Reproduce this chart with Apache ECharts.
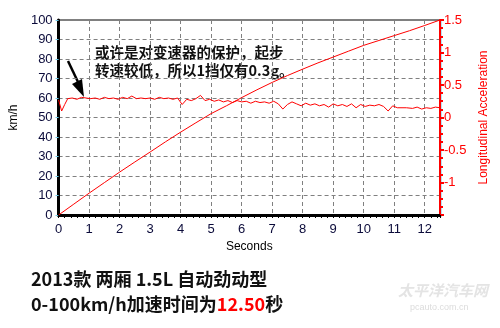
<!DOCTYPE html>
<html><head><meta charset="utf-8">
<script src="https://cdn.jsdelivr.net/npm/echarts@6/dist/echarts.min.js"></script>
<style>html,body{margin:0;padding:0;background:#fff}#c{width:500px;height:328px}</style>
</head><body><div id="c"></div>
<script>
// ---- data ----
const speedTime = [0, 0.5, 1, 1.5, 2, 2.5, 3, 3.5, 4, 4.5, 5, 5.5, 6, 6.5, 7, 7.5, 8, 8.5, 9, 9.5, 10, 10.5, 11, 11.5, 12, 12.5];
const speedKmh  = [0, 5.6, 11.2, 16.6, 22, 27.2, 32.3, 37.5, 42.5, 47.3, 52, 56, 60.2, 64.2, 68, 71.5, 74.8, 78, 81, 84, 87, 89.5, 92, 94.5, 97.2, 100];
const accelTime = [0, 0.1, 0.2, 0.3, 0.45, 0.6, 0.75, 0.9, 1.05, 1.2, 1.35, 1.5, 1.65, 1.8, 1.95, 2.1, 2.25, 2.4, 2.55, 2.7, 2.85, 3.0, 3.15, 3.3, 3.45, 3.6, 3.75, 3.9, 4.05, 4.2, 4.35, 4.5, 4.65, 4.8, 4.95, 5.1, 5.25, 5.4, 5.55, 5.7, 5.85, 6.0, 6.15, 6.3, 6.45, 6.6, 6.75, 6.9, 7.05, 7.2, 7.35, 7.5, 7.65, 7.8, 7.95, 8.1, 8.25, 8.4, 8.55, 8.7, 8.85, 9.0, 9.15, 9.3, 9.45, 9.6, 9.75, 9.9, 10.05, 10.2, 10.35, 10.5, 10.65, 10.8, 10.95, 11.1, 11.4, 11.6, 11.75, 11.9, 12.05, 12.2, 12.35, 12.5];
const accelG    = [0.27, 0.1, 0.2, 0.29, 0.3, 0.28, 0.31, 0.3, 0.29, 0.3, 0.28, 0.31, 0.29, 0.3, 0.28, 0.31, 0.29, 0.33, 0.29, 0.3, 0.29, 0.3, 0.28, 0.31, 0.29, 0.3, 0.28, 0.3, 0.2, 0.28, 0.26, 0.29, 0.34, 0.26, 0.28, 0.25, 0.27, 0.24, 0.26, 0.23, 0.26, 0.24, 0.25, 0.22, 0.25, 0.23, 0.24, 0.22, 0.25, 0.21, 0.13, 0.2, 0.24, 0.21, 0.18, 0.22, 0.19, 0.21, 0.18, 0.2, 0.16, 0.21, 0.18, 0.2, 0.17, 0.21, 0.15, 0.2, 0.17, 0.19, 0.18, 0.2, 0.17, 0.1, 0.18, 0.15, 0.15, 0.14, 0.16, 0.13, 0.15, 0.14, 0.16, 0.15];
const xTicks = [0,1,2,3,4,5,6,7,8,9,10,11,12];
const accelLabels = ['1.5','1','0.5','0','-0.5','-1'];
const titleLine1 = '2013款 两厢 1.5L 自动劲动型';
const titleLine2a = '0-100km/h加速时间为';
const titleLine2b = '12.50';
const titleLine2c = '秒';
const noteLine1 = '或许是对变速器的保护，起步';
const noteLine2 = '转速较低，所以1挡仅有0.3g。';

const chart = echarts.init(document.getElementById('c'), null, {renderer: 'canvas'});
const lab = {color: '#0b0b3a', fontFamily: 'Liberation Sans, Arial, sans-serif', fontSize: 13};
const cjk = "'Noto Sans CJK SC', sans-serif";

chart.setOption({
  animation: false,
  backgroundColor: '#fff',
  grid: {left: 58, right: 60, top: 20, bottom: 113, show: true, borderColor: '#000', borderWidth: 1},
  xAxis: {
    type: 'value', min: 0, max: 12.5, interval: 1,
    name: 'Seconds', nameLocation: 'middle', nameGap: 22,
    nameTextStyle: {color: '#000', fontFamily: 'Liberation Sans, Arial, sans-serif', fontSize: 12},
    axisLine: {show: true, lineStyle: {color: '#000', width: 3}},
    axisTick: {show: true, length: 3, lineStyle: {color: '#000'}},
    minorTick: {show: true, splitNumber: 5, length: 3, lineStyle: {color: '#000'}},
    axisLabel: Object.assign({margin: 8, formatter: v => xTicks.includes(v) ? String(v) : ''}, lab),
    splitLine: {show: true, lineStyle: {color: '#808080', type: [4, 3], width: 1}}
  },
  yAxis: [{
    type: 'value', min: 0, max: 100, interval: 10, position: 'left',
    name: 'km/h', nameLocation: 'middle', nameGap: 36, nameRotate: 90,
    nameTextStyle: {color: '#000', fontFamily: 'Liberation Sans, Arial, sans-serif', fontSize: 12},
    axisLine: {show: true, lineStyle: {color: '#000', width: 3}},
    axisTick: {show: true, length: 3, lineStyle: {color: '#6cc8e8'}},
    axisLabel: Object.assign({margin: 6}, lab),
    splitLine: {show: true, lineStyle: {color: '#808080', type: [4, 3], width: 1}}
  }, {
    type: 'value', min: -1.5, max: 1.5, interval: 0.5, position: 'right',
    name: 'Longitudinal Acceleration', nameLocation: 'middle', nameGap: 36, nameRotate: 90,
    nameTextStyle: {color: '#ff0000', fontFamily: 'Liberation Sans, Arial, sans-serif', fontSize: 12},
    axisLine: {show: true, lineStyle: {color: '#ff0000', width: 2}},
    axisTick: {show: true, inside: false, length: 4, lineStyle: {color: '#ff0000', width: 2}},
    minorTick: {show: true, splitNumber: 4, length: 3, lineStyle: {color: '#ff0000', width: 2}},
    axisLabel: {margin: 4, color: '#ff0000', fontFamily: 'Liberation Sans, Arial, sans-serif', fontSize: 13,
      formatter: v => { const s = String(v); return accelLabels.includes(s) ? s : ''; }},
    splitLine: {show: false}
  }],
  series: [{
    type: 'line', yAxisIndex: 0, showSymbol: false, smooth: false,
    lineStyle: {color: '#ff0000', width: 1},
    data: speedTime.map((t, i) => [t, speedKmh[i]])
  }, {
    type: 'line', yAxisIndex: 1, showSymbol: false, smooth: false,
    lineStyle: {color: '#ff0000', width: 1},
    data: accelTime.map((t, i) => [t, accelG[i]])
  }],
  graphic: [
    {type: 'line', shape: {x1: 441, y1: 20, x2: 441, y2: 215}, style: {stroke: '#6cc8e8', lineWidth: 1}},
    {type: 'text', left: 95, top: 45, style: {text: noteLine1, font: 'bold 14.5px ' + cjk, fill: '#111'}},
    {type: 'text', left: 95, top: 63, style: {text: noteLine2, font: 'bold 14.5px ' + cjk, fill: '#111'}},
    {type: 'line', shape: {x1: 68, y1: 61, x2: 78, y2: 82}, style: {stroke: '#000', lineWidth: 2.5}},
    {type: 'polygon', shape: {points: [[84, 97], [72, 84], [82, 79]]}, style: {fill: '#000'}},
    {type: 'text', left: 31, top: 270, style: {text: titleLine1, font: 'bold 18px ' + cjk, fill: '#111'}},
    {type: 'text', left: 31, top: 295, style: {
      text: '{a|' + titleLine2a + '}{b|' + titleLine2b + '}{a|' + titleLine2c + '}',
      rich: {a: {font: 'bold 18px ' + cjk, fill: '#111', color: '#111'}, b: {font: 'bold 18px ' + cjk, fill: '#ff0000', color: '#ff0000'}}
    }},
    {type: 'text', left: 398, top: 283, style: {text: '太平洋汽车网', font: 'italic bold 15px ' + cjk, fill: '#e4e4e4'}},
    {type: 'text', left: 410, top: 303, style: {text: 'pcauto.com.cn', font: '9px Liberation Sans, sans-serif', fill: '#dcdcdc'}}
  ]
});
</script></body></html>
